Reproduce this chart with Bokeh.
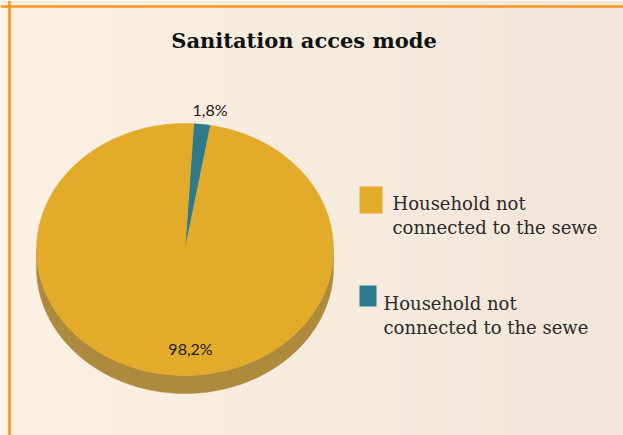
import numpy as np
from bokeh.plotting import figure
from bokeh.models import Range1d, Span
from bokeh.core.properties import value
from bokeh.embed import file_html
from bokeh.resources import INLINE

# ---- data ----
title_text = "Sanitation acces mode"
labels = ["Household not\nconnected to the sewe", "Household not\nconnected to the sewe"]
shares = [98.2, 1.8]
pct_labels = ["98,2%", "1,8%"]
colors = ["#e2ab2a", "#2d7a8d"]
side_color = "#ad8a3c"

# ---- layout ----
W, H = 623, 435
cx, cy, rx, ry, depth = 184.5, 186.0, 148.5, 126.0, 18.0
start_deg = 3.4  # clockwise from 12 o'clock, where the small slice starts

p = figure(width=W, height=H, x_range=Range1d(0, W), y_range=Range1d(0, H),
           output_backend="svg", toolbar_location=None, min_border=0)
p.axis.visible = False
p.grid.visible = False
p.outline_line_color = None

# background gradient
n = 64
img = np.zeros((1, n), dtype=np.uint32)
view = img.view(dtype=np.uint8).reshape((1, n, 4))
c0 = np.array([253, 241, 227]); c1 = np.array([242, 230, 218])
for i in range(n):
    t = i / (n - 1)
    c = c0 * (1 - t) + c1 * t
    view[0, i, 0:3] = c.astype(np.uint8)
    view[0, i, 3] = 255
p.image_rgba(image=[img], x=0, y=0, dw=W, dh=H)

def pt(t_deg, dy=0.0):
    t = np.radians(t_deg)
    return cx + rx * np.sin(t), cy + ry * np.cos(t) - dy

# side (3D depth)
ts = np.linspace(90, 270, 120)
xs_top, ys_top = pt(ts)
xs_bot, ys_bot = pt(ts[::-1], depth)
p.patch(np.concatenate([xs_top, xs_bot]), np.concatenate([ys_top, ys_bot]),
        fill_color=side_color, line_color=side_color, line_width=0.5)

# slices, clockwise from start, small slice first
order = list(range(len(shares)))[::-1]
total = sum(shares)
a = start_deg
for i in order:
    span = 360.0 * shares[i] / total
    ts = np.linspace(a, a + span, max(3, int(span * 2)))
    xs, ys = pt(ts)
    p.patch(np.concatenate([[cx], xs, [cx]]), np.concatenate([[cy], ys, [cy]]),
            fill_color=colors[i], line_color=colors[i], line_width=0.5)
    a += span

# percentage labels
pct_pos = [(190, 87), (209.5, 326)]
p.text(x=[q[0] for q in pct_pos], y=[q[1] for q in pct_pos], text=pct_labels,
       text_align="center", text_baseline="middle", text_font=value("Lato"),
       text_font_size="16px", text_color="#1a1a1a")

# title
p.text(x=[303.5], y=[395], text=[title_text], text_align="center", text_baseline="middle",
       text_font=value("DejaVu Serif"), text_font_style="bold", text_font_size="21px",
       text_color="#111111")

# legend
sq = [(370.5, 235.5, 23, 27), (367.5, 139.5, 17, 21)]
p.rect(x=[s[0] for s in sq], y=[s[1] for s in sq], width=[s[2] for s in sq],
       height=[s[3] for s in sq], fill_color=colors, line_color=None)
txt_pos = [(392, 232.5), (383, 132.5)]
lx, ly, lt = [], [], []
for (tx, ty), lab in zip(txt_pos, labels):
    for k, line in enumerate(lab.split("\n")):
        lx.append(tx); ly.append(ty - 24.5 * k); lt.append(line)
p.text(x=lx, y=ly, text=lt, text_align="left", text_baseline="alphabetic",
       text_font=value("DejaVu Serif"), text_font_size="18px", text_color="#2a2a2a")

# orange frame (top & left)
p.add_layout(Span(location=429, dimension="width", line_color="#f7941d", line_width=2.5))
p.add_layout(Span(location=9, dimension="height", line_color="#f7941d", line_width=2.5))

open("out.html", "w").write(file_html(p, INLINE))
